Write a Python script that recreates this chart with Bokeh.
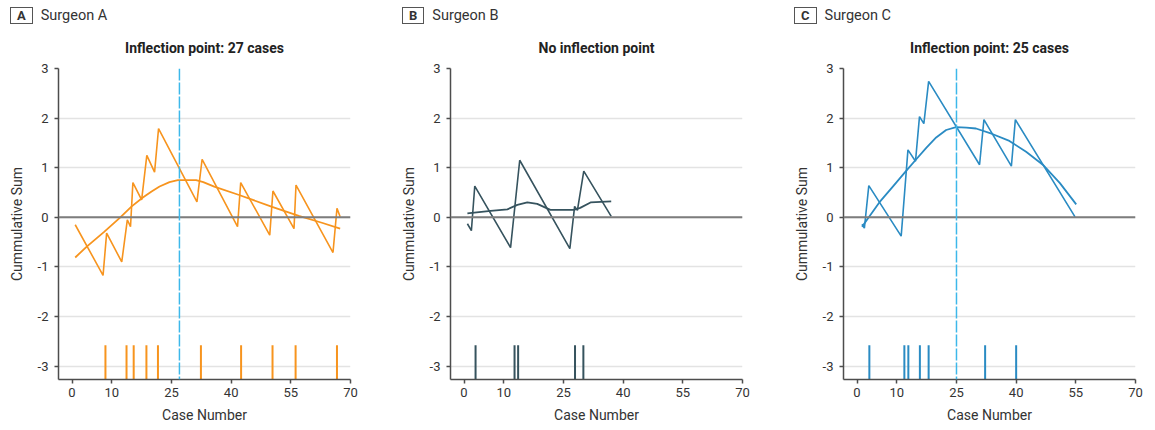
from bokeh.plotting import figure
from bokeh.layouts import row, column
from bokeh.models import Span, FixedTicker, Range1d, Div
from bokeh.embed import file_html
from bokeh.resources import INLINE

FONT = "Roboto"

x_ticks = [0, 10, 25, 40, 55, 70]
y_ticks = [-3, -2, -1, 0, 1, 2, 3]

# Surgeon A
a_cusum_x = [0.8, 7.8, 8.7, 12.5, 13.9, 14.7, 15.3, 17.5, 18.8, 20.75, 21.75, 31.4, 32.7,
             41.6, 42.4, 49.7, 50.5, 55.8, 56.3, 65.6, 66.6, 67.4]
a_cusum_y = [-0.15, -1.17, -0.32, -0.90, -0.05, -0.19, 0.70, 0.35, 1.25, 0.91, 1.79, 0.31, 1.17,
             -0.19, 0.70, -0.36, 0.53, -0.23, 0.65, -0.71, 0.18, 0.01]
a_smooth_x = [0.8, 3.7, 8, 12, 15, 17.8, 20, 22, 24.5, 26.6, 29.5, 31.2, 33, 35.75, 42, 50.3, 57, 62.8, 67.4]
a_smooth_y = [-0.81, -0.59, -0.30, -0.01, 0.22, 0.40, 0.52, 0.62, 0.71, 0.75, 0.75, 0.75, 0.71, 0.62,
              0.45, 0.21, 0.03, -0.11, -0.23]
a_rug = [8.4, 13.7, 15.5, 18.7, 21.6, 32.4, 42.5, 50.4, 56.2, 66.6]
a_inflection = 27

# Surgeon B
b_cusum_x = [0.85, 1.85, 2.7, 11.7, 14.0, 26.6, 27.8, 28.5, 30.1, 37.0]
b_cusum_y = [-0.13, -0.27, 0.63, -0.61, 1.15, -0.63, 0.22, 0.14, 0.93, 0.02]
b_smooth_x = [0.85, 6.7, 10.9, 13.4, 15.9, 18.4, 21.7, 27.6, 29.2, 31.8, 37.0]
b_smooth_y = [0.08, 0.13, 0.16, 0.25, 0.30, 0.27, 0.15, 0.15, 0.19, 0.30, 0.32]
b_rug = [2.9, 12.7, 13.6, 27.9, 30.0]

# Surgeon C
c_cusum_x = [1.26, 1.85, 2.96, 11.1, 12.8, 14.7, 15.7, 16.8, 18.0, 30.8, 31.9, 38.8, 39.8, 54.8]
c_cusum_y = [-0.14, -0.22, 0.64, -0.38, 1.36, 1.13, 2.03, 1.89, 2.74, 1.06, 1.97, 1.03, 1.97, 0.01]
c_smooth_x = [1.26, 5.6, 9, 12.3, 15, 17.4, 19.9, 22.4, 24.9, 27.5, 29.9, 34, 38.3, 42.5, 46.7, 51, 55.1]
c_smooth_y = [-0.19, 0.30, 0.62, 0.93, 1.18, 1.40, 1.61, 1.76, 1.82, 1.81, 1.79, 1.68, 1.54, 1.32,
              1.06, 0.69, 0.26]
c_rug = [3.1, 11.9, 12.9, 15.8, 18.0, 32.2, 40.0]
c_inflection = 25

TEXT = "#333333"
AXIS = "#4d4d4d"
INFL = "#3DB8EA"

X0, X1 = -3.4, 70
Y0, Y1 = -3.27, 3.0
FW, FH = 292, 311


def panel(letter, name, title, cx, cy, sx, sy, rug, color, infl, right_border, pad_left):
    p = figure(frame_width=FW, frame_height=FH, x_range=Range1d(X0, X1), y_range=Range1d(Y0, Y1),
               output_backend="svg", toolbar_location=None,
               min_border_left=58, min_border_right=right_border,
               min_border_top=40, min_border_bottom=50)
    p.outline_line_color = None
    p.background_fill_color = "white"
    p.border_fill_color = "white"
    p.xgrid.visible = False
    p.ygrid.ticker = FixedTicker(ticks=y_ticks)
    p.ygrid.grid_line_color = "#e3e3e3"
    p.ygrid.grid_line_width = 1.5

    p.title.text = title
    p.title.align = "center"
    p.title.text_font = FONT
    p.title.text_font_size = "14px"
    p.title.text_font_style = "bold"
    p.title.text_color = "#222222"
    p.title.standoff = 26

    p.xaxis.ticker = FixedTicker(ticks=x_ticks)
    p.yaxis.ticker = FixedTicker(ticks=y_ticks)
    p.yaxis.major_label_overrides = {t: str(t) for t in y_ticks}
    for ax in (p.xaxis, p.yaxis):
        ax.axis_line_color = AXIS
        ax.axis_line_width = 1.5
        ax.major_tick_line_color = AXIS
        ax.major_tick_line_width = 1.5
        ax.major_tick_out = 4
        ax.major_tick_in = 0
        ax.minor_tick_line_color = None
        ax.major_label_text_font = FONT
        ax.major_label_text_font_size = "13px"
        ax.major_label_text_color = TEXT
        ax.axis_label_text_font = FONT
        ax.axis_label_text_font_size = "14px"
        ax.axis_label_text_font_style = "normal"
        ax.axis_label_text_color = TEXT
    p.xaxis.axis_label = "Case Number"
    p.yaxis.axis_label = "Cummulative Sum"
    p.xaxis.major_label_standoff = 4
    p.xaxis.axis_label_standoff = 7
    p.yaxis.major_label_standoff = 6
    p.yaxis.axis_label_standoff = 10

    p.add_layout(Span(location=0, dimension="width", line_color="#7d7d7d", line_width=2))
    if infl is not None:
        p.add_layout(Span(location=infl, dimension="height", line_color=INFL, line_width=1.5,
                          line_dash="12 2"))

    p.segment(x0=rug, y0=[Y0] * len(rug), x1=rug, y1=[-2.58] * len(rug),
              line_color=color, line_width=2)
    p.line(sx, sy, line_color=color, line_width=1.8)
    p.line(cx, cy, line_color=color, line_width=1.6)

    width = 58 + FW + right_border
    header = Div(
        text=(f'<div style="padding:7px 0 0 {pad_left}px;font-family:{FONT};color:{TEXT};'
              f'white-space:nowrap;line-height:17px">'
              f'<span style="display:inline-block;border:1px solid #555;padding:0 6px;'
              f'font-weight:bold;font-size:13px;line-height:15px;background:#fff;'
              f'vertical-align:top">{letter}</span>'
              f'<span style="margin-left:8px;font-size:14.5px;vertical-align:top">{name}</span></div>'),
        width=width, height=24, margin=0, styles={"overflow": "visible"})
    return column(header, p, spacing=0)


pa = panel("A", "Surgeon A", "Inflection point: 27 cases", a_cusum_x, a_cusum_y,
           a_smooth_x, a_smooth_y, a_rug, "#F7941E", a_inflection, 42, 10)
pb = panel("B", "Surgeon B", "No inflection point", b_cusum_x, b_cusum_y,
           b_smooth_x, b_smooth_y, b_rug, "#36535E", None, 43, 10)
pc = panel("C", "Surgeon C", "Inflection point: 25 cases", c_cusum_x, c_cusum_y,
           c_smooth_x, c_smooth_y, c_rug, "#2A8BC3", c_inflection, 12, 9)

layout = row(pa, pb, pc, spacing=0)
open("out.html", "w").write(file_html(layout, INLINE))
